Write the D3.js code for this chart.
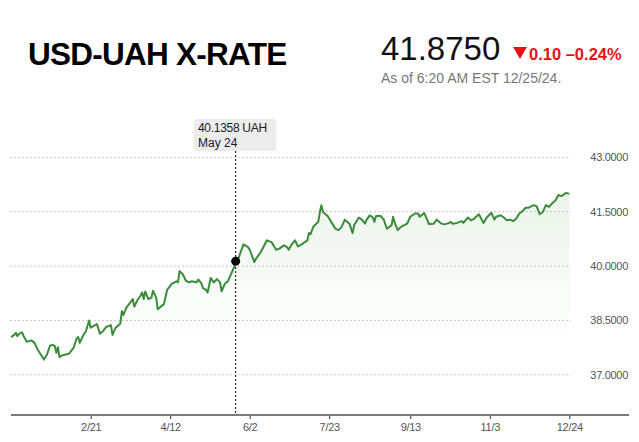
<!DOCTYPE html>
<html><head><meta charset="utf-8">
<script src="https://cdn.jsdelivr.net/npm/d3@7"></script>
<style>
html,body{margin:0;padding:0;background:#fff;}
svg{display:block;font-family:"Liberation Sans",Arial,Helvetica,sans-serif;}
</style></head>
<body>
<svg id="chart" width="639" height="442"></svg>
<script>
// Day of year 2024 for each observation
const days = [
1,3,4,5,6,8,9,11,14,16,
18,20,22,24,26,28,29,30,31,32,
34,36,38,41,43,44,45,47,49,51,
52,54,56,58,60,62,65,66,68,70,
71,72,73,75,77,79,80,82,84,85,
86,87,89,91,92,94,95,97,99,101,
104,107,108,109,111,113,115,117,120,121,
123,124,126,127,129,131,133,135,136,138,
140,142,144,145,147,150,153,154,157,158,
161,163,165,168,171,173,176,178,179,181,
183,185,188,191,192,193,195,198,199,200,
201,204,207,209,211,213,215,218,220,221,
224,226,228,229,231,233,234,235,238,240,
242,245,246,247,249,251,254,255,257,260,
262,263,266,268,269,272,274,277,279,282,
283,284,287,290,291,294,296,298,301,304,
306,309,311,312,315,317,319,321,323,325,
327,329,331,333,336,338,340,342,344,346,
348,350,352,354,356,357,359];
const rates = [
38.04,38.10,38.16,38.07,38.13,38.17,38.07,37.91,37.95,37.88,
37.70,37.56,37.42,37.56,37.81,37.82,37.79,37.61,37.76,37.49,
37.54,37.56,37.58,37.74,38.00,38.04,37.88,38.07,38.21,38.50,
38.30,38.35,38.40,38.13,38.21,38.32,38.37,38.10,38.30,38.37,
38.41,38.76,38.65,38.86,38.97,39.09,38.88,39.06,39.18,39.27,
39.09,39.30,39.09,39.13,39.32,39.13,38.81,38.88,38.95,39.34,
39.51,39.58,39.55,39.86,39.78,39.60,39.55,39.58,39.55,39.63,
39.52,39.39,39.34,39.27,39.67,39.55,39.64,39.55,39.30,39.51,
39.58,39.78,39.97,40.1358,40.24,40.60,40.52,40.45,40.11,40.20,
40.38,40.54,40.71,40.66,40.45,40.48,40.57,40.52,40.45,40.60,
40.71,40.54,40.62,40.71,40.91,40.88,41.10,41.22,41.49,41.68,
41.49,41.38,41.17,41.03,40.99,41.08,41.28,41.17,40.91,41.13,
41.34,41.28,41.17,41.28,41.40,41.34,41.22,41.38,41.38,41.28,
41.03,41.13,41.36,41.19,40.99,41.08,41.15,41.17,41.36,41.45,
41.45,41.36,41.46,41.26,41.16,41.17,41.28,41.17,41.15,41.19,
41.22,41.17,41.19,41.24,41.19,41.34,41.26,41.31,41.43,41.19,
41.34,41.47,41.28,41.36,41.40,41.34,41.26,41.28,41.24,41.31,
41.45,41.52,41.61,41.61,41.68,41.65,41.43,41.49,41.68,41.63,
41.73,41.80,41.96,41.93,41.99,42.02,41.99];
const yTicks = [37.0, 38.5, 40.0, 41.5, 43.0];
const xTickDates = ["2024-02-21","2024-04-12","2024-06-02","2024-07-23","2024-09-13","2024-11-03","2024-12-24"];
const title = "USD-UAH X-RATE";
const lastPrice = "41.8750";
const change = "0.10";
const changePct = "\u20130.24%";
const asOf = "As of 6:20 AM EST 12/25/24.";
const hoverDay = 145;
const hoverValue = 40.1358;
const hoverText = "40.1358 UAH";
const hoverDate = "May 24";

const base = Date.UTC(2023, 11, 31);
const data = days.map((d, i) => ({date: d3.utcDay.offset(new Date(base), d), v: rates[i]}));
const parse = d3.utcParse("%Y-%m-%d");

const svg = d3.select("#chart");
const x = d3.scaleUtc().domain([new Date(base), parse("2024-12-24")]).range([9.6, 569.3]);
const y = d3.scaleLinear().domain([37, 43]).range([374.8, 157.3]);

// header
svg.append("text").attr("x", 28).attr("y", 65).attr("font-size", 31.5).attr("font-weight", "bold")
  .attr("letter-spacing", -0.75).attr("fill", "#000").text(title);
svg.append("text").attr("x", 381).attr("y", 60).attr("font-size", 33).attr("fill", "#111").text(lastPrice);
svg.append("path").attr("d", "M513,47 L527,47 L520,59 Z").attr("fill", "#e01515");
svg.append("text").attr("x", 529).attr("y", 60).attr("font-size", 16.5).attr("font-weight", "bold")
  .attr("fill", "#e01515").text(change + " " + changePct);
svg.append("text").attr("x", 381).attr("y", 83).attr("font-size", 14).attr("fill", "#777").text(asOf);

// gradient
const defs = svg.append("defs");
const grad = defs.append("linearGradient").attr("id", "fillg").attr("gradientUnits", "userSpaceOnUse")
  .attr("x1", 0).attr("x2", 0).attr("y1", 190).attr("y2", 345);
grad.append("stop").attr("offset", 0).attr("stop-color", "#4a9a3c").attr("stop-opacity", 0.11);
grad.append("stop").attr("offset", 1).attr("stop-color", "#4a9a3c").attr("stop-opacity", 0);

// gridlines
svg.append("g").selectAll("line").data(yTicks).join("line")
  .attr("x1", 10).attr("x2", 571).attr("y1", d => y(d)).attr("y2", d => y(d))
  .attr("stroke", "#c8c8c8").attr("stroke-width", 1).attr("stroke-dasharray", "2,2");

// y labels via axis
const yAxis = d3.axisRight(y).tickValues(yTicks).tickFormat(d3.format(".4f")).tickSize(0);
const gy = svg.append("g").attr("transform", "translate(628,0)").call(yAxis);
gy.select(".domain").remove();
gy.selectAll("text").attr("x", 0).attr("text-anchor", "end").attr("font-size", 11)
  .attr("font-family", "'Liberation Sans',Arial,sans-serif").attr("fill", "#555").attr("letter-spacing", -0.3);

// area & line
const area = d3.area().x(d => x(d.date)).y0(415).y1(d => y(d.v));
svg.append("path").datum(data).attr("d", area).attr("fill", "url(#fillg)");
const line = d3.line().x(d => x(d.date)).y(d => y(d.v));
svg.append("path").datum(data).attr("d", line).attr("fill", "none")
  .attr("stroke", "#3a8c3c").attr("stroke-width", 2).attr("stroke-linejoin", "round");

// x axis
const xAxis = d3.axisBottom(x).tickValues(xTickDates.map(parse)).tickFormat(d3.utcFormat("%-m/%-d")).tickSize(4).tickSizeOuter(0);
const gx = svg.append("g").attr("transform", "translate(0,415)").call(xAxis);
gx.select(".domain").remove();
gx.selectAll(".tick line").attr("stroke", "#333");
gx.selectAll("text").attr("font-size", 11).attr("font-family", "'Liberation Sans',Arial,sans-serif")
  .attr("fill", "#555").attr("dy", "0.71em").attr("y", 8).attr("letter-spacing", -0.3);
svg.append("line").attr("x1", 11).attr("x2", 629).attr("y1", 415).attr("y2", 415)
  .attr("stroke", "#7a7a7a").attr("stroke-width", 2);

// hover marker
const hx = x(d3.utcDay.offset(new Date(base), hoverDay));
svg.append("line").attr("x1", hx).attr("x2", hx).attr("y1", 151).attr("y2", 414)
  .attr("stroke", "#000").attr("stroke-width", 1).attr("stroke-dasharray", "2,2");
svg.append("circle").attr("cx", hx).attr("cy", y(hoverValue)).attr("r", 4.5).attr("fill", "#000");
svg.append("rect").attr("x", 194).attr("y", 119).attr("width", 82).attr("height", 32).attr("rx", 3)
  .attr("fill", "#ececec");
svg.append("text").attr("x", 198).attr("y", 132).attr("font-size", 12).attr("fill", "#1a1a2a").attr("letter-spacing", -0.3).text(hoverText);
svg.append("text").attr("x", 198).attr("y", 147).attr("font-size", 12).attr("fill", "#1a1a2a").text(hoverDate);
</script>
</body></html>
